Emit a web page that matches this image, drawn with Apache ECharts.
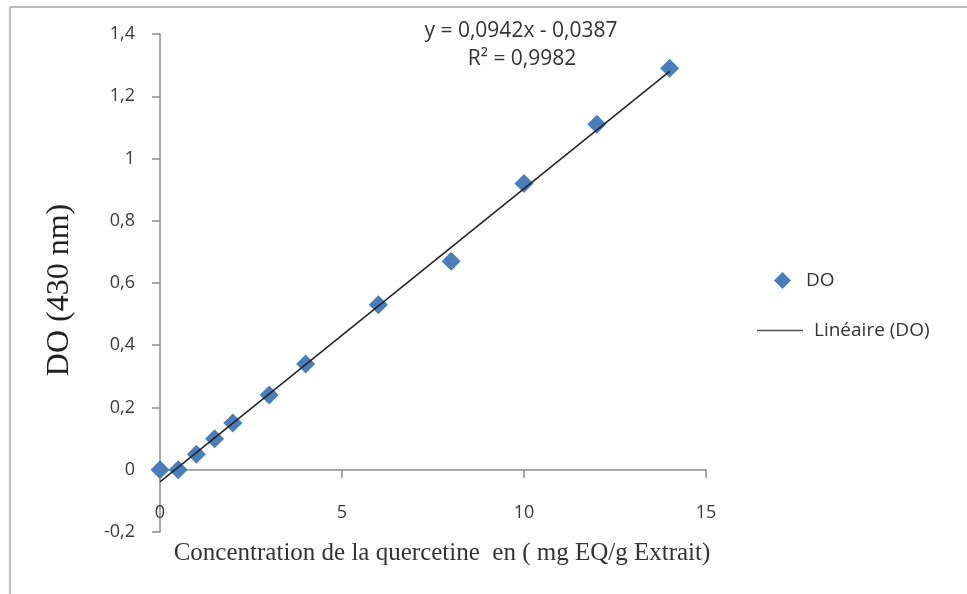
<!DOCTYPE html>
<html>
<head>
<meta charset="utf-8">
<script src="https://cdn.jsdelivr.net/npm/echarts@6/dist/echarts.min.js"></script>
<style>
html,body{margin:0;padding:0;background:#fff;}
#chart{width:967px;height:594px;}
</style>
</head>
<body>
<div id="chart"></div>
<script>
// Data
var concentrations = [0, 0.5, 1, 1.5, 2, 3, 4, 6, 8, 10, 12, 14];
var absorbance = [0, 0, 0.05, 0.1, 0.15, 0.24, 0.34, 0.53, 0.67, 0.92, 1.11, 1.29];
var trendX = [0, 14];
var trendY = [-0.039, 1.280];
var equationText = 'y = 0,0942x - 0,0387';
var r2Text = 'R² = 0,9982';
var xTitle = 'Concentration de la quercetine  en ( mg EQ/g Extrait)';
var yTitle = 'DO (430 nm)';
var seriesName = 'DO';
var trendName = 'Linéaire (DO)';

var scatterData = concentrations.map(function (x, i) { return [x, absorbance[i]]; });
var trendData = trendX.map(function (x, i) { return [x, trendY[i]]; });

var chart = echarts.init(document.getElementById('chart'), null, {renderer: 'canvas'});
var fmt = function (v) { return String(Math.round(v * 10) / 10).replace('.', ','); };
var sans = '"Open Sans", sans-serif';
var serif = '"Liberation Serif", "Times New Roman", serif';
var labelFont = {fontFamily: sans, fontSize: 18, color: '#3a3a3a'};

chart.setOption({
  animation: false,
  backgroundColor: '#fff',
  grid: {left: 160, right: 261, top: 34, bottom: 62, outerBoundsMode: 'none', containLabel: false},
  graphic: [
    {type: 'line', shape: {x1: 10, y1: 7, x2: 967, y2: 7}, style: {stroke: '#bdbdbd', lineWidth: 2}},
    {type: 'line', shape: {x1: 10, y1: 7, x2: 10, y2: 594}, style: {stroke: '#bdbdbd', lineWidth: 2}},
    {type: 'text', x: 521, y: 31, style: {text: equationText, textAlign: 'center', textVerticalAlign: 'middle',
      font: '21px ' + sans, fill: '#333'}},
    {type: 'text', x: 522, y: 59, style: {text: r2Text, textAlign: 'center', textVerticalAlign: 'middle',
      font: '21px ' + sans, fill: '#333'}},
    {type: 'text', x: 60, y: 290, rotation: Math.PI / 2, style: {text: yTitle, textAlign: 'center',
      textVerticalAlign: 'middle', font: '32px ' + serif, fill: '#222'}}
  ],
  legend: [
    {
      left: 769, top: 266,
      itemWidth: 17, itemHeight: 17,
      textStyle: {fontFamily: sans, fontSize: 19, color: '#333', padding: [0, 0, 0, 10]},
      data: [{name: seriesName, icon: 'diamond'}]
    },
    {
      left: 752, top: 316,
      itemWidth: 46, itemHeight: 2,
      textStyle: {fontFamily: sans, fontSize: 19, color: '#333', padding: [0, 0, 0, 6]},
      data: [{name: trendName, icon: 'path://M0,0 L46,0 L46,1.3 L0,1.3 Z', itemStyle: {color: '#555'}}]
    }
  ],
  xAxis: {
    type: 'value',
    min: 0, max: 15, interval: 5,
    name: xTitle,
    nameLocation: 'middle',
    nameGap: 9,
    nameTextStyle: {fontFamily: serif, fontSize: 25, color: '#333', padding: [0, 0, 0, 18]},
    axisLine: {onZero: true, lineStyle: {color: '#8c8c8c', width: 1.5}},
    axisTick: {show: true, inside: false, length: 8, lineStyle: {color: '#8c8c8c', width: 1.5}},
    axisLabel: Object.assign({margin: -28, formatter: fmt}, labelFont),
    splitLine: {show: false}
  },
  yAxis: {
    type: 'value',
    min: -0.2, max: 1.4, interval: 0.2,
    axisLine: {show: true, onZero: false, lineStyle: {color: '#8c8c8c', width: 1.5}},
    axisTick: {show: true, inside: false, length: 8, lineStyle: {color: '#8c8c8c', width: 1.5}},
    axisLabel: Object.assign({margin: 25, formatter: fmt}, labelFont),
    splitLine: {show: false}
  },
  series: [
    {
      name: seriesName,
      type: 'scatter',
      symbol: 'diamond',
      symbolSize: 19,
      clip: false,
      itemStyle: {color: '#4A7EBB', opacity: 1},
      data: scatterData,
      z: 2
    },
    {
      name: trendName,
      type: 'line',
      symbol: 'none',
      clip: false,
      lineStyle: {color: '#222', width: 1.5},
      itemStyle: {color: '#555'},
      data: trendData,
      z: 3
    }
  ]
});
</script>
</body>
</html>
